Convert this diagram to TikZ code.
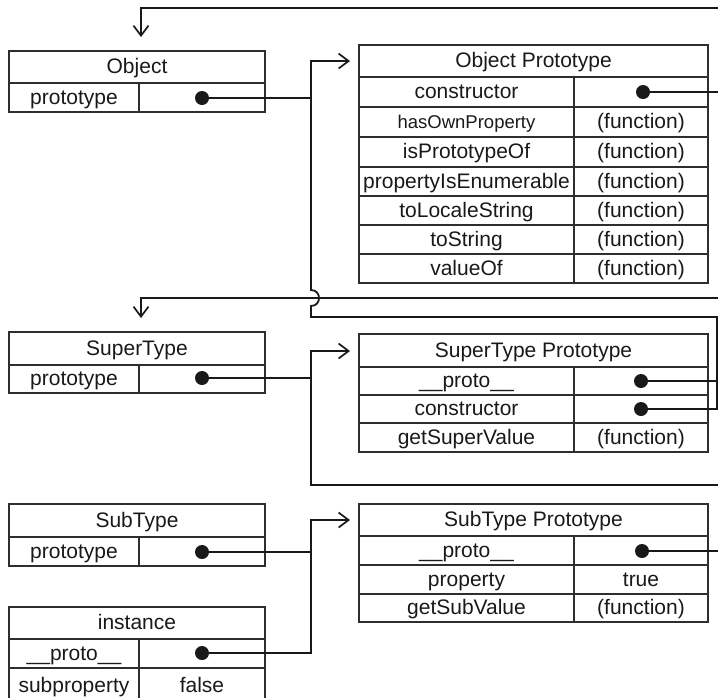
\documentclass[tikz,border=0pt]{standalone}
\usepackage{fontspec}
\setmainfont{Liberation Sans}
\usetikzlibrary{arrows.meta}
\newcommand\smalltxt{\fontsize{18.5}{22}\selectfont}
% a one-cell title row: name, x0, x1, y0, y1, text
\newcommand\titlerow[6]{%
  \draw[frame] (#2,#4) rectangle (#3,#5);
  \node[lbl] (#1) at ({(#2+#3)/2},{(#4+#5)/2+6.8}) {#6};}
% a row whose value cell holds only a pointer dot: name, x0, xdiv, x1, y0, y1, key
\newcommand\keyrow[7]{%
  \draw[frame] (#2,#5) rectangle (#4,#6);
  \draw[frame] (#3,#5) -- (#3,#6);
  \node[lbl] (#1) at ({(#2+#3)/2},{(#5+#6)/2+6.5}) {#7};}
% a key/value row: key name, value name, x0, xdiv, x1, y0, y1, key, value
\newcommand\pairrow[9]{%
  \draw[frame] (#3,#6) rectangle (#5,#7);
  \draw[frame] (#4,#6) -- (#4,#7);
  \node[lbl] (#1) at ({(#3+#4)/2},{(#6+#7)/2+6.5}) {#8};
  \node[lbl] (#2) at ({(#4+#5)/2},{(#6+#7)/2+6.5}) {#9};}
\begin{document}
\begin{tikzpicture}[x=1pt,y=-1pt,
  frame/.style={draw=black!82,line width=1.5pt},
  lbl/.style={anchor=base,inner sep=0pt,text=black!90,font=\fontsize{21}{25}\selectfont},
  dotnode/.style={circle,fill=black!90,inner sep=0pt,minimum size=14pt},
  conn/.style={draw=black!90,line width=1.8pt},
  ptr/.style={conn,-{Straight Barb[length=10pt,width=15pt,line width=1.7pt]}},
]
\clip (0,0) rectangle (718,697);

% ---------- Object ----------
\titlerow{obj-t}{9}{265}{51}{83}{Object}
\keyrow{obj-k}{9}{139}{265}{83}{112}{prototype}
\node[dotnode] (obj-dot) at (202,98) {};

% ---------- Object Prototype ----------
\titlerow{op-t}{359}{708}{45}{77}{Object Prototype}
\keyrow{op-k1}{359}{574}{708}{77}{107}{constructor}
\node[dotnode] (op-dot) at (643,92) {};
\pairrow{op-k2}{op-v2}{359}{574}{708}{107}{137}{\smalltxt hasOwnProperty}{(function)}
\pairrow{op-k3}{op-v3}{359}{574}{708}{137}{167}{isPrototypeOf}{(function)}
\pairrow{op-k4}{op-v4}{359}{574}{708}{167}{196}{propertyIsEnumerable}{(function)}
\pairrow{op-k5}{op-v5}{359}{574}{708}{196}{225}{toLocaleString}{(function)}
\pairrow{op-k6}{op-v6}{359}{574}{708}{225}{254}{toString}{(function)}
\pairrow{op-k7}{op-v7}{359}{574}{708}{254}{283}{valueOf}{(function)}

% ---------- SuperType ----------
\titlerow{st-t}{9}{265}{332}{365}{SuperType}
\keyrow{st-k}{9}{139}{265}{365}{393}{prototype}
\node[dotnode] (st-dot) at (202,378) {};

% ---------- SuperType Prototype ----------
\titlerow{sp-t}{359}{708}{334}{367}{SuperType Prototype}
\keyrow{sp-k1}{359}{574}{708}{367}{395}{\_\_proto\_\_}
\node[dotnode] (sp-dot1) at (641,381) {};
\keyrow{sp-k2}{359}{574}{708}{395}{423}{constructor}
\node[dotnode] (sp-dot2) at (641,409) {};
\pairrow{sp-k3}{sp-v3}{359}{574}{708}{423}{452}{getSuperValue}{(function)}

% ---------- SubType ----------
\titlerow{sb-t}{9}{265}{504}{537}{SubType}
\keyrow{sb-k}{9}{139}{265}{537}{566}{prototype}
\node[dotnode] (sb-dot) at (202,552) {};

% ---------- SubType Prototype ----------
\titlerow{sbp-t}{359}{708}{504}{536}{SubType Prototype}
\keyrow{sbp-k1}{359}{574}{708}{536}{565}{\_\_proto\_\_}
\node[dotnode] (sbp-dot) at (642,551) {};
\pairrow{sbp-k2}{sbp-v2}{359}{574}{708}{565}{594}{property}{true}
\pairrow{sbp-k3}{sbp-v3}{359}{574}{708}{594}{622}{getSubValue}{(function)}

% ---------- instance ----------
\titlerow{in-t}{9}{265}{607}{639}{instance}
\keyrow{in-k1}{9}{139}{265}{639}{668}{\_\_proto\_\_}
\node[dotnode] (in-dot) at (202,653) {};
\pairrow{in-k2}{in-v2}{9}{139}{265}{668}{704}{subproperty}{false}

% ---------- connectors ----------
\coordinate (top-end) at (718,8);
\coordinate (obj-in) at (141,37);
\draw[ptr] (top-end) -| (obj-in);

\coordinate (trunk-a) at (311,98);
\coordinate (op-in) at (350,61);
\draw[ptr] (obj-dot) -- (trunk-a) |- (op-in);

\coordinate (op-end) at (718,92);
\draw[conn] (op-dot) -- (op-end);

\coordinate (mid-end) at (718,298);
\coordinate (st-in) at (141,318);
\draw[ptr] (mid-end) -| (st-in);

% constructor of SuperType Prototype runs back up the trunk, hopping the crossing line
\coordinate (rt-a) at (717,317);
\coordinate (hop-lo) at (311,306);
\coordinate (hop-hi) at (311,290);
\draw[conn] (sp-dot2) -| (rt-a) -- (rt-a -| hop-lo) -- (hop-lo)
  .. controls (321.7,306) and (321.7,290) .. (hop-hi) -- (trunk-a);
\draw[conn] (sp-dot1) -- (sp-dot1 -| rt-a);

\coordinate (trunk-b) at (311,378);
\coordinate (sp-in) at (350,351);
\draw[ptr] (st-dot) -- (trunk-b) |- (sp-in);
\coordinate (low-end) at (718,485);
\draw[conn] (trunk-b) |- (low-end);

\coordinate (trunk-c) at (311,552);
\coordinate (sbp-in) at (350,520);
\draw[ptr] (sb-dot) -- (trunk-c) |- (sbp-in);
\draw[conn] (in-dot) -| (trunk-c);

\coordinate (sbp-end) at (718,551);
\draw[conn] (sbp-dot) -- (sbp-end);
\end{tikzpicture}
\end{document}
